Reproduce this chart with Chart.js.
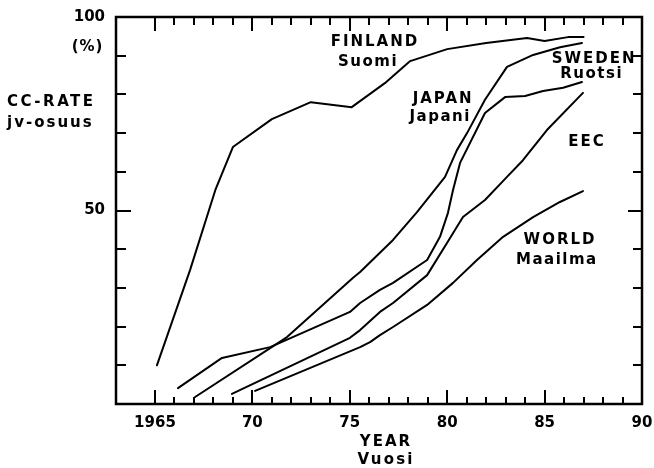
<!DOCTYPE html>
<html>
<head>
<meta charset="utf-8">
<script src="https://cdn.jsdelivr.net/npm/chart.js@4.4.1/dist/chart.umd.min.js"></script>
<style>
  html, body { margin: 0; padding: 0; background: #fff; }
  canvas { display: block; }
</style>
</head>
<body>
<canvas id="cc" width="654" height="468"></canvas>
<script>
// Continuous-casting share of crude steel output (%), by year
const finlandYears = [1965.1, 1966.8, 1968.1, 1969.0, 1971.0, 1973.0, 1975.1, 1976.8, 1978.1, 1980.0, 1982.0, 1984.1, 1985.0, 1986.2, 1987.0];
const finlandRates = [10.0, 34.6, 55.3, 66.4, 73.6, 78.0, 76.7, 82.9, 88.6, 91.7, 93.3, 94.6, 93.8, 94.8, 94.8];

const japanYears = [1967.06, 1971.78, 1975.17, 1975.53, 1977.22, 1978.45, 1979.89, 1980.5, 1981.02, 1981.94, 1983.07, 1984.41, 1985.79, 1986.92];
const japanRates = [1.8, 17.3, 32.6, 34.1, 42.4, 49.6, 58.7, 65.6, 70.0, 78.6, 87.1, 90.2, 92.2, 93.3];

const swedenYears = [1966.18, 1968.44, 1970.91, 1975.01, 1975.53, 1976.55, 1977.22, 1978.97, 1979.63, 1980.04, 1980.3, 1980.66, 1981.94, 1982.97, 1984.0, 1984.92, 1985.95, 1986.92];
const swedenRates = [4.1, 11.9, 14.7, 23.8, 26.1, 29.5, 31.3, 37.2, 43.2, 49.4, 55.3, 62.3, 75.2, 79.3, 79.6, 80.9, 81.7, 83.2];

const eecYears = [1968.95, 1975.01, 1975.53, 1976.55, 1977.22, 1978.97, 1979.99, 1980.81, 1981.94, 1983.07, 1983.89, 1985.12, 1986.97];
const eecRates = [2.6, 17.1, 19.1, 23.8, 26.1, 33.3, 41.6, 48.3, 52.7, 58.7, 63.0, 70.8, 80.4];

const worldYears = [1970.14, 1975.53, 1976.04, 1976.55, 1977.22, 1978.97, 1980.3, 1981.53, 1982.87, 1984.41, 1985.79, 1986.97];
const worldRates = [3.4, 14.7, 16.0, 17.8, 19.9, 25.6, 31.3, 37.2, 43.2, 48.3, 52.2, 55.0];

const seriesNames = ['FINLAND', 'JAPAN', 'SWEDEN', 'EEC', 'WORLD'];
const seriesNamesFi = ['Suomi', 'Japani', 'Ruotsi', '', 'Maailma'];

const xTickYears = [1965, 1970, 1975, 1980, 1985, 1990];
const xTickLabels = ['1965', '70', '75', '80', '85', '90'];
const yTickValues = [50, 100];
const yTickLabels = ['50', '100'];

const seriesData = [
  [finlandYears, finlandRates],
  [japanYears, japanRates],
  [swedenYears, swedenRates],
  [eecYears, eecRates],
  [worldYears, worldRates]
];

// Where each curve's name sits, in axis units (year, percent)
const nameAnchors = [
  { en: [1976.24, 93.5], fi: [1975.9, 88.4] },
  { en: [1979.74, 78.8], fi: [1979.6, 74.2] },
  { en: [1987.49, 89.1], fi: [1987.38, 85.3] },
  { en: [1987.13, 67.7], fi: null },
  { en: [1985.74, 42.4], fi: [1985.59, 37.2] }
];

const FONT = 'bold 15px "DejaVu Sans"';

function spacedText(ctx, text, cx, cy, spacing) {
  ctx.letterSpacing = spacing + 'px';
  ctx.fillText(text, cx + spacing / 2, cy);
}

const framePlugin = {
  id: 'frame',
  afterDraw(chart) {
    const { ctx, chartArea: a, scales: { x, y } } = chart;
    ctx.save();
    ctx.strokeStyle = '#000';
    ctx.lineCap = 'butt';

    // plot frame
    ctx.lineWidth = 2.5;
    ctx.strokeRect(a.left, a.top, a.right - a.left, a.bottom - a.top);

    // inward tick marks on all four sides
    ctx.lineWidth = 2;
    ctx.beginPath();
    for (let yr = 1965; yr < 1990; yr++) {
      const px = Math.round(x.getPixelForValue(yr));
      const major = yr % 5 === 0;
      ctx.moveTo(px, a.bottom);
      ctx.lineTo(px, a.bottom - (major ? 14 : 7));
      ctx.moveTo(px, a.top);
      ctx.lineTo(px, a.top + (major ? 14 : 8));
    }
    for (let v = 10; v < 100; v += 10) {
      const py = Math.round(y.getPixelForValue(v));
      const major = v === 50;
      ctx.moveTo(a.left, py);
      ctx.lineTo(a.left + (major ? 15 : 10), py);
      ctx.moveTo(a.right, py);
      ctx.lineTo(a.right - (major ? 14 : 9), py);
    }
    ctx.stroke();

    // text
    ctx.fillStyle = '#000';
    ctx.font = FONT;
    ctx.textBaseline = 'middle';
    ctx.textAlign = 'center';

    nameAnchors.forEach((n, i) => {
      spacedText(ctx, seriesNames[i], x.getPixelForValue(n.en[0]), y.getPixelForValue(n.en[1]), 2);
      if (n.fi) {
        spacedText(ctx, seriesNamesFi[i], x.getPixelForValue(n.fi[0]), y.getPixelForValue(n.fi[1]), 1.5);
      }
    });

    // axis titles
    spacedText(ctx, '(%)', 87, 47, 1);
    ctx.textAlign = 'left';
    ctx.letterSpacing = '2.5px';
    ctx.fillText('CC-RATE', 7, 102);
    ctx.letterSpacing = '2px';
    ctx.fillText('jv-osuus', 7, 123);
    ctx.textAlign = 'center';
    spacedText(ctx, 'YEAR', 385, 442, 2);
    spacedText(ctx, 'Vuosi', 385, 460, 2.2);

    ctx.restore();
  }
};

const tickFont = { family: 'DejaVu Sans', size: 15, weight: 'bold' };

new Chart(document.getElementById('cc'), {
  type: 'line',
  data: {
    datasets: seriesData.map(([years, rates], i) => ({
      label: seriesNames[i],
      data: years.map((yr, k) => ({ x: yr, y: rates[k] })),
      borderColor: '#000',
      borderWidth: 2,
      pointRadius: 0,
      tension: 0,
      fill: false,
      borderJoinStyle: 'round',
      borderCapStyle: 'round'
    }))
  },
  options: {
    responsive: false,
    animation: false,
    devicePixelRatio: 1,
    layout: { padding: { top: 17, right: 12, left: 0, bottom: 0 } },
    plugins: { legend: { display: false }, tooltip: { enabled: false } },
    scales: {
      x: {
        type: 'linear',
        min: 1963,
        max: 1990,
        grid: { display: false, drawTicks: false },
        border: { display: false },
        afterBuildTicks: s => { s.ticks = xTickYears.map(v => ({ value: v })); },
        afterFit: s => { s.height = 64; s.paddingLeft = 0; s.paddingRight = 0; },
        ticks: {
          color: '#000',
          font: tickFont,
          padding: 10,
          maxRotation: 0,
          autoSkip: false,
          callback: (v, i) => xTickLabels[i]
        }
      },
      y: {
        type: 'linear',
        min: 0,
        max: 100,
        grid: { display: false, drawTicks: false },
        border: { display: false },
        afterBuildTicks: s => { s.ticks = yTickValues.map(v => ({ value: v })); },
        afterFit: s => { s.width = 116; s.paddingTop = 0; s.paddingBottom = 0; },
        ticks: {
          color: '#000',
          font: tickFont,
          padding: 11,
          autoSkip: false,
          callback: (v, i) => yTickLabels[i]
        }
      }
    }
  },
  plugins: [framePlugin]
});
</script>
</body>
</html>
